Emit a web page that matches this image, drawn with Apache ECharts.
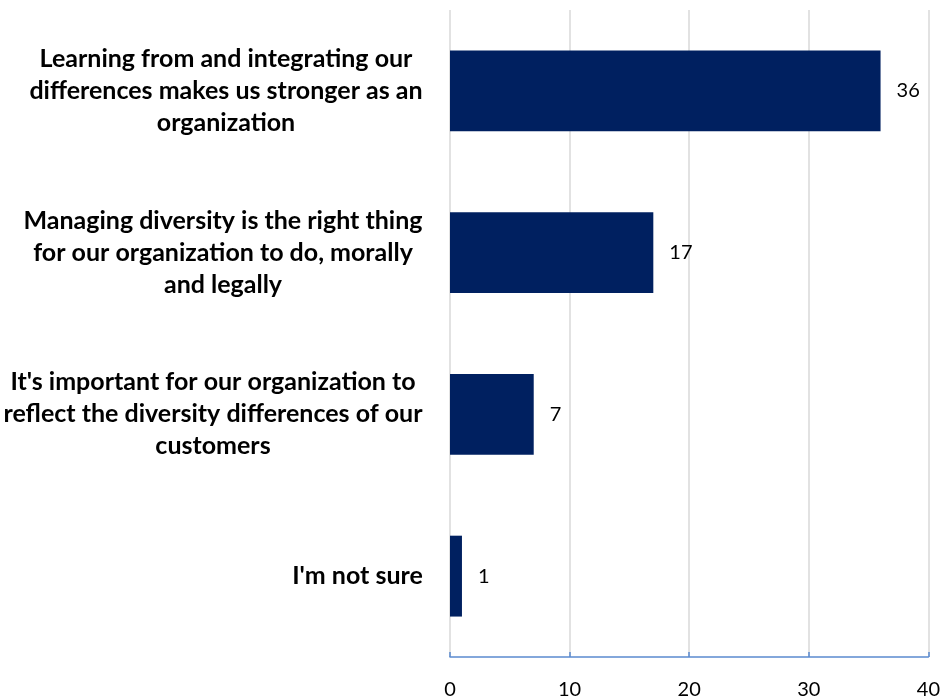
<!DOCTYPE html>
<html>
<head>
<meta charset="utf-8">
<script src="https://cdn.jsdelivr.net/npm/echarts@6/dist/echarts.min.js"></script>
<style>
  html, body { margin: 0; padding: 0; background: #fff; }
  #chart { width: 943px; height: 700px; }
</style>
</head>
<body>
<div id="chart"></div>
<script>
// Survey responses: reasons for managing diversity
const categories = [
  "Learning from and integrating our\ndifferences makes us stronger as an\norganization",
  "Managing diversity is the right thing\nfor our organization to do, morally\nand legally",
  "It's important for our organization to\nreflect the diversity differences of our\ncustomers",
  "I'm not sure"
];
const values = [36, 17, 7, 1];
const xTicks = { min: 0, max: 40, interval: 10 };

const labelSize = 25;
const ctx = document.createElement('canvas').getContext('2d');
ctx.font = 'bold ' + labelSize + 'px Lato';

// Each category label is a block as wide as its longest line, lines centred in it
const rich = {};
categories.forEach((c, i) => {
  const w = Math.max(...c.split('\n').map(l => ctx.measureText(l).width));
  rich['r' + i] = {
    width: Math.ceil(w), align: 'center',
    fontFamily: 'Lato', fontWeight: 'bold', fontSize: labelSize,
    lineHeight: 32, color: '#000'
  };
});

const chart = echarts.init(document.getElementById('chart'), null, { renderer: 'canvas' });
chart.setOption({
  animation: false,
  grid: { left: 450, right: 13, top: 10, bottom: 42, containLabel: false },
  xAxis: {
    type: 'value',
    min: xTicks.min, max: xTicks.max, interval: xTicks.interval,
    axisLine: { show: true, lineStyle: { color: '#5b8bd0', width: 1.5 } },
    axisTick: { show: true, inside: true, length: 5, lineStyle: { color: '#5b8bd0', width: 1.5 } },
    splitLine: { show: true, lineStyle: { color: '#d9d9d9', width: 1.5 } },
    axisLabel: { margin: 23, fontFamily: 'Lato', fontSize: 20, color: '#000' }
  },
  yAxis: {
    type: 'category',
    inverse: true,
    data: categories,
    axisLine: { show: false },
    axisTick: { show: false },
    axisLabel: {
      margin: 27,
      align: 'right',
      formatter: (v) => {
        const i = categories.indexOf(v);
        return v.split('\n').map(l => '{r' + i + '|' + l + '}').join('\n');
      },
      rich: rich
    }
  },
  series: [{
    type: 'bar',
    data: values,
    barWidth: '50%',
    itemStyle: { color: '#002060' },
    label: {
      show: true, position: 'right', distance: 16,
      fontFamily: 'Lato', fontSize: 20, color: '#000'
    }
  }]
});
</script>
</body>
</html>
